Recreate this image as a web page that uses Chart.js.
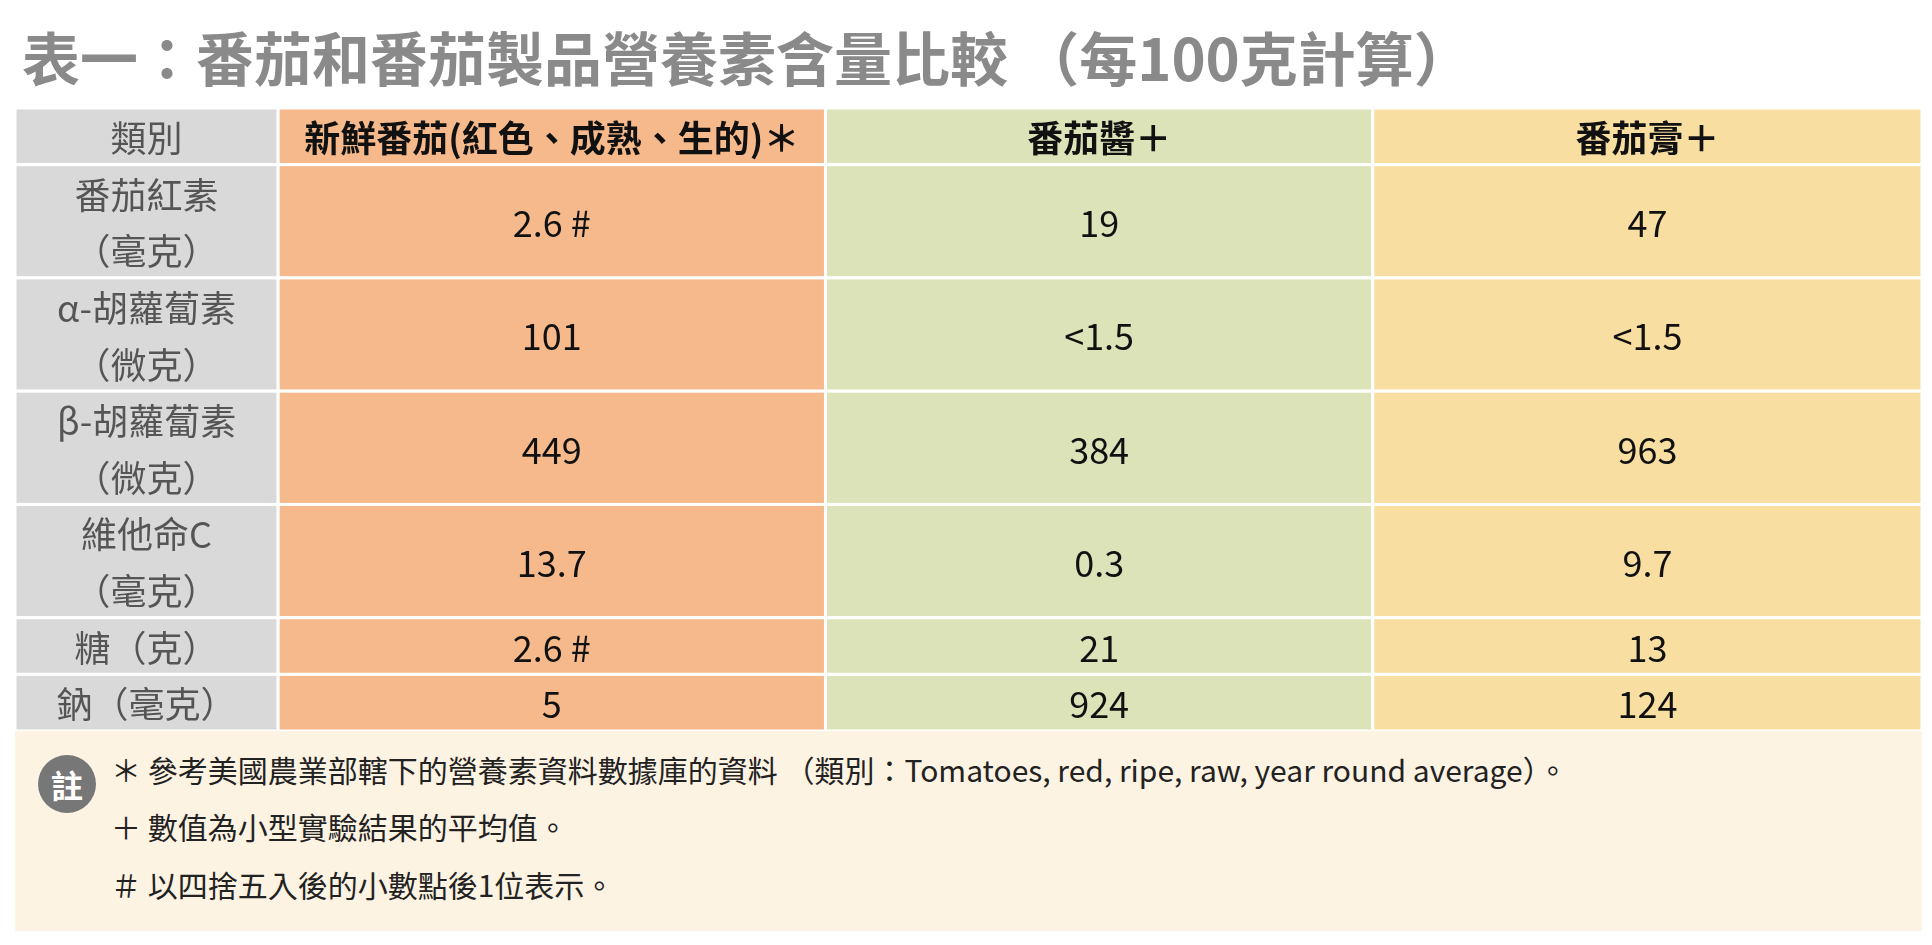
<!DOCTYPE html>
<html><head><meta charset="utf-8">
<script src="https://cdn.jsdelivr.net/npm/chart.js@4"></script>
<style>
body{margin:0;background:#fff;font-family:"Noto Sans CJK TC","Noto Sans",sans-serif;}
#wrap{position:relative;width:1932px;height:945px;}
#title{position:absolute;left:22px;top:20px;font-size:58px;font-weight:bold;color:#8a8a8a;white-space:nowrap;line-height:72px;}
#notes{position:absolute;left:15px;top:731px;width:1907px;height:200px;background:#fdf3e3;}
#notes .n{position:absolute;left:96px;font-size:30px;color:#222;white-space:nowrap;}
#badge{position:absolute;left:23px;top:24px;width:58px;height:58px;border-radius:50%;background:#777;color:#fff;font-size:32px;font-weight:bold;text-align:center;line-height:58px;}
</style></head>
<body><div id="wrap">
<canvas id="chart" width="1932" height="945"></canvas>
<div id="title">表一：番茄和番茄製品營養素含量比較 （每100克計算）</div>
<div id="notes">
<div id="badge">註</div>
<div class="n" style="top:16px">＊ 參考美國農業部轄下的營養素資料數據庫的資料 （類別：Tomatoes, red, ripe, raw, year round average）。</div>
<div class="n" style="top:73px">＋ 數值為小型實驗結果的平均值。</div>
<div class="n" style="top:131px">＃ 以四捨五入後的小數點後1位表示。</div>
</div>
</div>
<script>
// 表格資料
const headers = ['類別', '新鮮番茄(紅色、成熟、生的)＊', '番茄醬＋', '番茄膏＋'];
const rowLabels = [['番茄紅素', '（毫克）'], ['α-胡蘿蔔素', '（微克）'], ['β-胡蘿蔔素', '（微克）'], ['維他命C', '（毫克）'], ['糖（克）'], ['鈉（毫克）']];
const freshTomato = ['2.6 #', '101', '449', '13.7', '2.6 #', '5'];
const ketchup = ['19', '<1.5', '384', '0.3', '21', '924'];
const paste = ['47', '<1.5', '963', '9.7', '13', '124'];
const rowUnits = [1, 2, 2, 2, 2, 1, 1]; // header + rows, in line units
const colEdges = [0, 13.8, 42.5, 71.2, 100];
const colColors = ['#d9d9d9', '#f5b98c', '#dce3b9', '#f8dfa1'];

const tablePlugin = {
    id: 'table',
    afterDraw(chart) {
        const { ctx, scales: { x, y } } = chart;
        const columns = [rowLabels, freshTomato, ketchup, paste];
        let top = 0;
        rowUnits.forEach((u, r) => {
            const y0 = y.getPixelForValue(top), y1 = y.getPixelForValue(top + u);
            for (let c = 0; c < 4; c++) {
                const x0 = x.getPixelForValue(colEdges[c]), x1 = x.getPixelForValue(colEdges[c + 1]);
                ctx.fillStyle = colColors[c];
                ctx.fillRect(x0, y0, x1 - x0, y1 - y0);
                ctx.strokeStyle = '#fff';
                ctx.lineWidth = 3;
                ctx.strokeRect(x0, y0, x1 - x0, y1 - y0);
                let lines;
                if (r === 0) lines = [headers[c]];
                else if (c === 0) lines = rowLabels[r - 1];
                else lines = [columns[c][r - 1]];
                ctx.fillStyle = (c === 0) ? '#555' : '#111';
                ctx.font = (r === 0 && c > 0 ? 'bold ' : '') + '36px "Noto Sans CJK TC"';
                ctx.textAlign = 'center';
                ctx.textBaseline = 'middle';
                const cx = (x0 + x1) / 2, lh = (y1 - y0) / Math.max(lines.length, 1);
                lines.forEach((t, i) => ctx.fillText(t, cx, y0 + lh * (i + 0.5) + 2));
            }
            top += u;
        });
    }
};

new Chart(document.getElementById('chart'), {
    type: 'scatter',
    data: { datasets: [{ data: [] }] },
    options: {
        responsive: false,
        animation: false,
        devicePixelRatio: 1,
        layout: { padding: { left: 15, right: 10, top: 108, bottom: 214 } },
        plugins: { legend: { display: false }, tooltip: { enabled: false } },
        scales: {
            x: { type: 'linear', min: 0, max: 100, display: false },
            y: { type: 'linear', min: 0, max: 11, reverse: true, display: false }
        }
    },
    plugins: [tablePlugin]
});
</script>
</body></html>
